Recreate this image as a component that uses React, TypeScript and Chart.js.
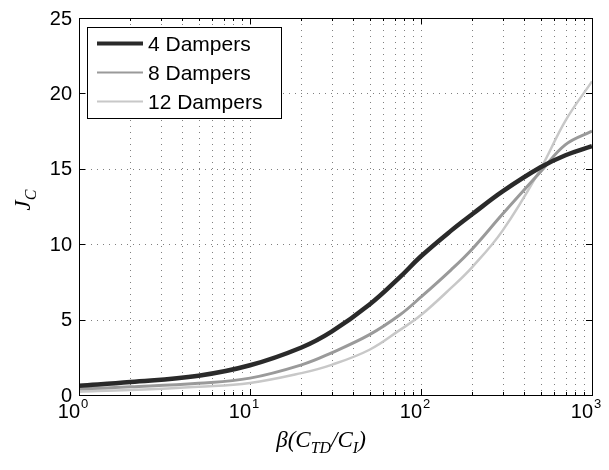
import React, { useEffect, useRef } from "react";
import { Chart, registerables } from "chart.js";

Chart.register(...registerables);

const xValues = [1, 2, 5, 10, 20, 30, 50, 75, 100, 150, 200, 300, 500, 700, 1000];
const dampers4 = [0.62, 0.86, 1.28, 1.97, 3.15, 4.2, 6.0, 7.8, 9.2, 10.9, 12.0, 13.5, 15.1, 15.9, 16.5];
const dampers8 = [0.4, 0.54, 0.78, 1.12, 2.0, 2.8, 4.0, 5.3, 6.5, 8.3, 9.7, 12.0, 14.8, 16.6, 17.5];
const dampers12 = [0.22, 0.33, 0.55, 0.8, 1.45, 2.0, 3.0, 4.3, 5.3, 7.1, 8.5, 10.9, 15.0, 18.2, 20.8];

const seriesLabels = ["4 Dampers", "8 Dampers", "12 Dampers"];
const seriesColors = ["#2a2a2a", "#9a9a9a", "#c8c8c8"];
const seriesWidths = [4.5, 3, 2.5];

const yTicks = [0, 5, 10, 15, 20, 25];
const xMajorTicks = [1, 10, 100, 1000];
const xMajorExponents = ["0", "1", "2", "3"];
const xMinorTicks = [
  2, 3, 4, 5, 6, 7, 8, 9,
  20, 30, 40, 50, 60, 70, 80, 90,
  200, 300, 400, 500, 600, 700, 800, 900,
];

const SANS = "'Liberation Sans', Arial, sans-serif";
const SERIF = "'Liberation Serif', 'Times New Roman', serif";

type Part = { t: string; size: number; dy: number };

function drawRich(ctx: CanvasRenderingContext2D, parts: Part[], cx: number, baseY: number) {
  let total = 0;
  const widths: number[] = [];
  for (const p of parts) {
    ctx.font = `italic ${p.size}px ${SERIF}`;
    const w = ctx.measureText(p.t).width;
    widths.push(w);
    total += w;
  }
  let x = cx - total / 2;
  ctx.textAlign = "left";
  ctx.textBaseline = "alphabetic";
  parts.forEach((p, i) => {
    ctx.font = `italic ${p.size}px ${SERIF}`;
    ctx.fillText(p.t, x, baseY + p.dy);
    x += widths[i];
  });
}

const decorPlugin = {
  id: "matlabDecor",
  beforeDatasetsDraw(chart: any) {
    const { ctx, chartArea } = chart;
    const xs = chart.scales.x;
    const ys = chart.scales.y;
    ctx.save();
    ctx.strokeStyle = "rgba(0,0,0,0.5)";
    ctx.lineWidth = 1;
    ctx.setLineDash([1, 5]);
    for (const v of [...xMajorTicks.slice(1, -1), ...xMinorTicks]) {
      const px = Math.round(xs.getPixelForValue(v)) + 0.5;
      ctx.beginPath();
      ctx.moveTo(px, chartArea.top);
      ctx.lineTo(px, chartArea.bottom);
      ctx.stroke();
    }
    for (const v of yTicks.slice(1, -1)) {
      const py = Math.round(ys.getPixelForValue(v)) + 0.5;
      ctx.beginPath();
      ctx.moveTo(chartArea.left, py);
      ctx.lineTo(chartArea.right, py);
      ctx.stroke();
    }
    ctx.restore();
  },
  afterDatasetsDraw(chart: any) {
    const { ctx, chartArea } = chart;
    const xs = chart.scales.x;
    const ys = chart.scales.y;
    const { left, right, top, bottom } = chartArea;
    ctx.save();
    ctx.setLineDash([]);
    ctx.strokeStyle = "#000";
    ctx.lineWidth = 1;
    ctx.strokeRect(Math.round(left) + 0.5, Math.round(top) + 0.5, Math.round(right - left), Math.round(bottom - top));
    const drawXTick = (v: number, len: number) => {
      const px = Math.round(xs.getPixelForValue(v)) + 0.5;
      ctx.beginPath();
      ctx.moveTo(px, bottom);
      ctx.lineTo(px, bottom - len);
      ctx.moveTo(px, top);
      ctx.lineTo(px, top + len);
      ctx.stroke();
    };
    xMajorTicks.forEach((v) => drawXTick(v, 6));
    xMinorTicks.forEach((v) => drawXTick(v, 3));
    yTicks.forEach((v) => {
      const py = Math.round(ys.getPixelForValue(v)) + 0.5;
      ctx.beginPath();
      ctx.moveTo(left, py);
      ctx.lineTo(left + 6, py);
      ctx.moveTo(right, py);
      ctx.lineTo(right - 6, py);
      ctx.stroke();
    });
    ctx.fillStyle = "#000";
    ctx.font = `20px ${SANS}`;
    ctx.textAlign = "right";
    ctx.textBaseline = "middle";
    yTicks.forEach((v) => {
      ctx.fillText(String(v), left - 7, ys.getPixelForValue(v) + 1);
    });
    xMajorTicks.forEach((v, i) => {
      ctx.font = `20px ${SANS}`;
      const wb = ctx.measureText("10").width;
      ctx.font = `13px ${SANS}`;
      const we = ctx.measureText(xMajorExponents[i]).width;
      const cx = xs.getPixelForValue(v) - 6;
      const x0 = cx - (wb + we + 1) / 2;
      ctx.textAlign = "left";
      ctx.textBaseline = "alphabetic";
      ctx.font = `20px ${SANS}`;
      ctx.fillText("10", x0, 418);
      ctx.font = `13px ${SANS}`;
      ctx.fillText(xMajorExponents[i], x0 + wb + 1, 408);
    });
    ctx.fillStyle = "#000";
    drawRich(
      ctx,
      [
        { t: "β(C", size: 23, dy: 0 },
        { t: "TD", size: 16, dy: 6 },
        { t: "/C", size: 23, dy: 0 },
        { t: "I", size: 16, dy: 6 },
        { t: ")", size: 23, dy: 0 },
      ],
      321,
      447
    );
    ctx.save();
    ctx.translate(30, 200);
    ctx.rotate(-Math.PI / 2);
    drawRich(
      ctx,
      [
        { t: "J", size: 23, dy: 0 },
        { t: "C", size: 16, dy: 6 },
      ],
      0,
      0
    );
    ctx.restore();
    const lx = 87, ly = 27, lw = 194, lh = 91;
    ctx.fillStyle = "#fff";
    ctx.fillRect(lx, ly, lw, lh);
    ctx.strokeStyle = "#000";
    ctx.lineWidth = 1;
    ctx.strokeRect(lx + 0.5, ly + 0.5, lw, lh);
    const rows = [44, 73, 102];
    seriesLabels.forEach((lab, i) => {
      const y = rows[i];
      ctx.strokeStyle = seriesColors[i];
      ctx.lineWidth = i === 0 ? 4 : 2;
      ctx.beginPath();
      ctx.moveTo(97, y - 0.5);
      ctx.lineTo(143, y - 0.5);
      ctx.stroke();
      ctx.fillStyle = "#000";
      ctx.font = `21px ${SANS}`;
      ctx.textAlign = "left";
      ctx.textBaseline = "middle";
      ctx.fillText(lab, 148, y + 1);
    });
    ctx.restore();
  },
};

export default function App() {
  const canvasRef = useRef<HTMLCanvasElement | null>(null);

  useEffect(() => {
    if (!canvasRef.current) return;
    const seriesData = [dampers4, dampers8, dampers12];
    const chart = new Chart(canvasRef.current, {
      type: "line",
      data: {
        datasets: seriesLabels.map((label, i) => ({
          label,
          data: xValues.map((x, j) => ({ x, y: seriesData[i][j] })),
          borderColor: seriesColors[i],
          backgroundColor: seriesColors[i],
          borderWidth: seriesWidths[i],
          pointRadius: 0,
          tension: 0.4,
          fill: false,
        })),
      },
      options: {
        animation: false,
        responsive: false,
        devicePixelRatio: 1,
        layout: { padding: { left: 79, right: 17, top: 18, bottom: 75 } },
        plugins: {
          legend: { display: false },
          tooltip: { enabled: false },
        },
        scales: {
          x: { type: "logarithmic", min: 1, max: 1000, display: false },
          y: { type: "linear", min: 0, max: 25, display: false },
        },
      },
      plugins: [decorPlugin],
    });
    return () => chart.destroy();
  }, []);

  return (
    <div style={{ position: "fixed", left: 0, top: 0, width: 609, height: 470, background: "#fff" }}>
      <canvas ref={canvasRef} width={609} height={470} />
    </div>
  );
}
